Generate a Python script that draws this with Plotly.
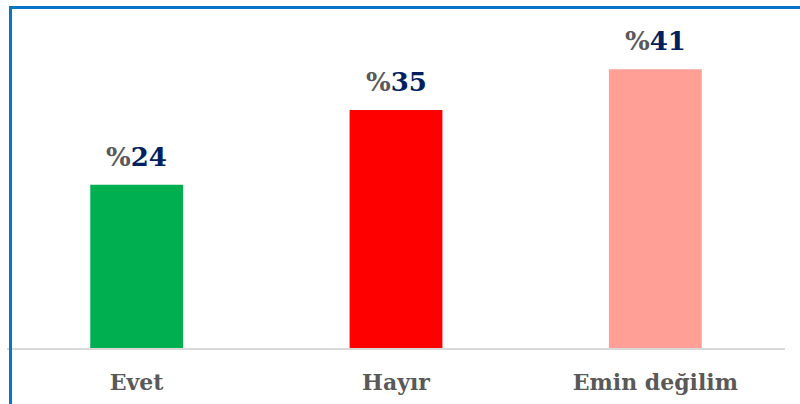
import plotly.graph_objects as go

categories = ["Evet", "Hayır", "Emin değilim"]
values = [24, 35, 41]
colors = ["#00B050", "#FF0000", "#FF9F95"]

W, H = 800, 404
ml, mr, mt, mb = 7, 15, 12, 56
pw = W - ml - mr
ph = H - mt - mb
ymax = 50 * ph / 340

fig = go.Figure()
fig.add_trace(go.Bar(
    x=categories, y=values, marker=dict(color=colors, line=dict(width=0)),
    width=0.358, hoverinfo="skip",
))

for c, v in zip(categories, values):
    fig.add_annotation(
        x=c, y=v, xref="x", yref="y", yanchor="bottom", yshift=11,
        text=f"<span style='color:#595959'>%</span>{v}", showarrow=False,
        font=dict(family="DejaVu Serif", size=26, color="#002060", weight="bold"),
    )

def px_x(p):
    return (p - ml) / pw

def px_y(p):
    return (H - mb - p) / ph

border = "#0A74C6"
fig.add_shape(type="line", xref="paper", yref="paper", layer="above",
              x0=px_x(9), x1=px_x(801), y0=px_y(7.5), y1=px_y(7.5),
              line=dict(color=border, width=3))
fig.add_shape(type="line", xref="paper", yref="paper", layer="above",
              x0=px_x(10.5), x1=px_x(10.5), y0=px_y(6), y1=px_y(405),
              line=dict(color=border, width=3))

fig.update_layout(
    width=W, height=H, margin=dict(l=ml, r=mr, t=mt, b=mb, autoexpand=False),
    paper_bgcolor="white", plot_bgcolor="white", showlegend=False,
    xaxis=dict(showline=True, linecolor="#D9D9D9", linewidth=2, ticks="",
               showgrid=False, automargin=False, ticklabelstandoff=14,
               tickfont=dict(family="DejaVu Serif", size=22, color="#595959", weight="bold")),
    yaxis=dict(range=[0, ymax], visible=False, showgrid=False, zeroline=False),
)

fig.write_html("out.html", config={"displayModeBar": False},
               post_script="document.body.style.margin='0';document.body.style.overflow='hidden';")
